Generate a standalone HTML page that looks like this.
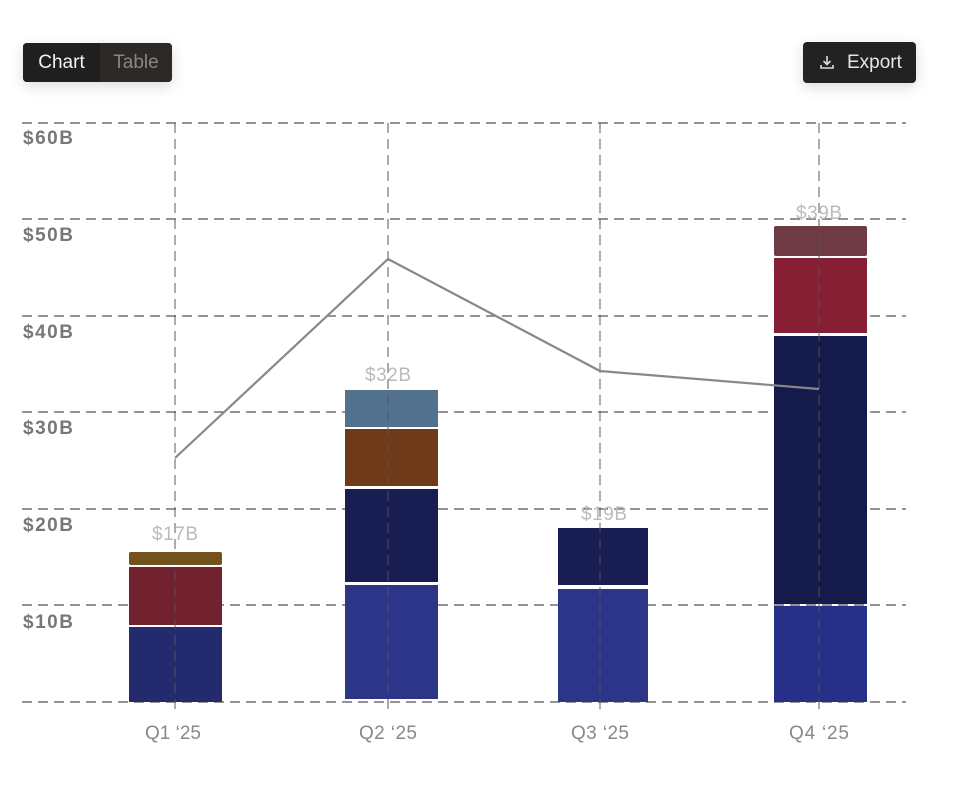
<!DOCTYPE html>
<html><head><style>
body{margin:0;background:#fff;width:958px;height:788px;overflow:hidden;font-family:"Liberation Sans",sans-serif;}
.btn{position:absolute;background:#222;border-radius:4px;box-shadow:0 4px 14px rgba(0,0,0,0.15);color:#eee;font-size:19px;}
</style></head><body>
<div class="btn" style="left:23px;top:43px;width:149px;height:39px;display:flex;overflow:hidden;">
 <div style="width:77px;background:#1f1f1f;line-height:39px;text-align:center;color:#f2f2f2">Chart</div>
 <div style="flex:1;background:#2c2927;line-height:39px;text-align:center;color:#8a8582">Table</div>
</div>
<div class="btn" style="left:803px;top:42px;width:113px;height:41px;line-height:41px;">
 <svg style="position:absolute;left:16px;top:12px" width="16" height="16" viewBox="0 0 16 16"><path d="M8 2v8M4.5 7l3.5 3.5L11.5 7M2 11v3h12v-3" stroke="#ddd" stroke-width="1.6" fill="none"/></svg>
 <span style="position:absolute;left:44px;color:#e6e6e6">Export</span>
</div>
<svg width="958" height="788" style="position:absolute;left:0;top:0">
<g stroke="#555" stroke-width="1.2" stroke-dasharray="10,6">
<line x1="22" x2="906" y1="123" y2="123"/><line x1="22" x2="906" y1="219" y2="219"/>
<line x1="22" x2="906" y1="316" y2="316"/><line x1="22" x2="906" y1="412" y2="412"/>
<line x1="22" x2="906" y1="509" y2="509"/><line x1="22" x2="906" y1="605" y2="605"/>
<line x1="22" x2="906" y1="702" y2="702"/>
</g>
<g font-size="19" fill="#777" font-weight="bold" textLength="50">
<text x="23" y="144" textLength="50">$60B</text><text x="23" y="241" textLength="50">$50B</text><text x="23" y="338" textLength="50">$40B</text>
<text x="23" y="434" textLength="50">$30B</text><text x="23" y="531" textLength="50">$20B</text><text x="23" y="628" textLength="50">$10B</text>
</g>
<g>
<rect x="129" y="627" width="93" height="75" fill="#232a6e"/>
<rect x="129" y="567" width="93" height="58" fill="#72222f"/>
<rect x="129" y="552" width="93" height="13" rx="2" fill="#74521e"/>
<rect x="345" y="585" width="93" height="114" fill="#2c3587"/>
<rect x="345" y="489" width="93" height="93" fill="#181d52"/>
<rect x="345" y="429" width="93" height="57" fill="#6e3a19"/>
<rect x="345" y="390" width="93" height="37" fill="#52718f"/>
<rect x="558" y="589" width="90" height="113" fill="#2c3587"/>
<rect x="558" y="528" width="90" height="57" fill="#181d52"/>
<rect x="774" y="606" width="93" height="96" fill="#273089"/>
<rect x="774" y="336" width="93" height="268" fill="#141a4a"/>
<rect x="774" y="258" width="93" height="75" fill="#861f33"/>
<rect x="774" y="226" width="93" height="30" rx="2" fill="#6e3b44"/>
</g>
<g stroke="#555" stroke-width="1.2" stroke-dasharray="10,6" opacity="0.8">
<line x1="175" x2="175" y1="123" y2="712"/><line x1="388" x2="388" y1="123" y2="712"/>
<line x1="600" x2="600" y1="123" y2="712"/><line x1="819" x2="819" y1="123" y2="712"/>
</g>
<polyline points="175,458 388,259 600,371 819,389" fill="none" stroke="#888" stroke-width="2.2"/>
<g font-size="19" fill="#bbb" text-anchor="middle">
<text x="175" y="540" textLength="46">$17B</text><text x="388" y="381" textLength="46">$32B</text>
<text x="604" y="520" textLength="46">$19B</text><text x="819" y="219" textLength="46">$39B</text>
</g>
<g font-size="19" fill="#888" text-anchor="middle">
<text x="173" y="739" textLength="56">Q1 ‘25</text><text x="388" y="739" textLength="58">Q2 ‘25</text>
<text x="600" y="739" textLength="58">Q3 ‘25</text><text x="819" y="739" textLength="60">Q4 ‘25</text>
</g>
</svg>
</body></html>
